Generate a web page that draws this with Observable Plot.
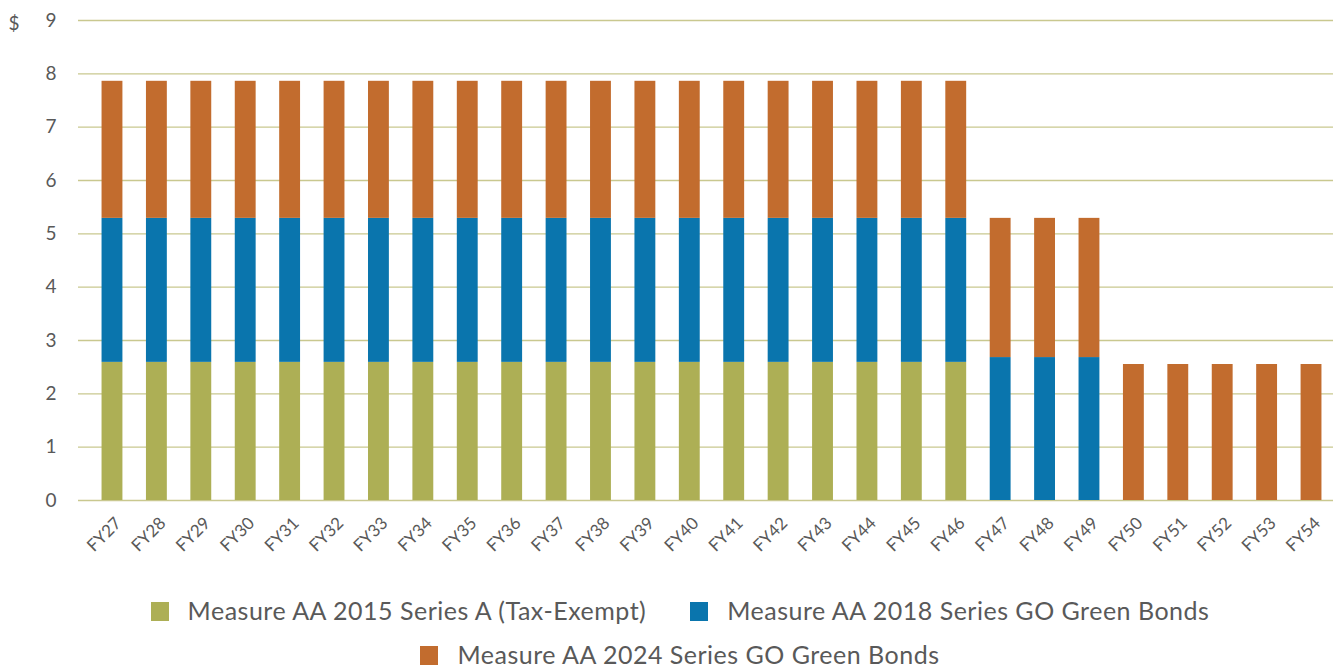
<!DOCTYPE html>
<html>
<head>
<meta charset="utf-8">
<script src="https://cdn.jsdelivr.net/npm/d3@7"></script>
<script src="https://cdn.jsdelivr.net/npm/@observablehq/plot@0.6"></script>
<style>
  html, body { margin: 0; padding: 0; background: #fff; }
  body { width: 1333px; height: 672px; overflow: hidden; font-family: Lato, "DejaVu Sans", sans-serif; }
  #legend { width: 1240px; margin-left: 60px; margin-top: 16px; text-align: center; font-size: 25px; letter-spacing: 0.5px; color: #595959; line-height: 44px; }
  .item { display: inline-block; margin: 0 22px; white-space: nowrap; }
  .sw { display: inline-block; width: 18px; height: 19px; margin-right: 19px; vertical-align: -1px; }
</style>
</head>
<body>
<div id="chart"></div>
<div id="legend"></div>
<script>
const years = ["FY27","FY28","FY29","FY30","FY31","FY32","FY33","FY34","FY35","FY36","FY37","FY38","FY39","FY40","FY41","FY42","FY43","FY44","FY45","FY46","FY47","FY48","FY49","FY50","FY51","FY52","FY53","FY54"];
const seriesNames = ["Measure AA 2015 Series A (Tax-Exempt)", "Measure AA 2018 Series GO Green Bonds", "Measure AA 2024 Series GO Green Bonds"];
const colors = ["#adaf55", "#0a75ad", "#c26c2e"];
const s2015 = [2.59,2.59,2.59,2.59,2.59,2.59,2.59,2.59,2.59,2.59,2.59,2.59,2.59,2.59,2.59,2.59,2.59,2.59,2.59,2.59,0,0,0,0,0,0,0,0];
const s2018 = [2.70,2.70,2.70,2.70,2.70,2.70,2.70,2.70,2.70,2.70,2.70,2.70,2.70,2.70,2.70,2.70,2.70,2.70,2.70,2.70,2.68,2.68,2.68,0,0,0,0,0];
const s2024 = [2.57,2.57,2.57,2.57,2.57,2.57,2.57,2.57,2.57,2.57,2.57,2.57,2.57,2.57,2.57,2.57,2.57,2.57,2.57,2.57,2.61,2.61,2.61,2.55,2.55,2.55,2.55,2.55];
const yTicks = [0,1,2,3,4,5,6,7,8,9];

const data = [];
[s2015, s2018, s2024].forEach((arr, si) => {
  arr.forEach((v, i) => { if (v > 0) data.push({year: years[i], series: seriesNames[si], value: v}); });
});

const chart = Plot.plot({
  width: 1333,
  height: 572,
  marginLeft: 78,
  marginRight: 0,
  marginTop: 20,
  marginBottom: 72,
  style: {fontFamily: 'Lato, "DejaVu Sans", sans-serif', color: "#595959", background: "#fff"},
  x: {domain: years, paddingInner: 0.53, paddingOuter: 0.26, insetLeft: 12, round: false, label: null},
  y: {domain: [0, 9], ticks: yTicks, label: null},
  color: {domain: seriesNames, range: colors},
  marks: [
    Plot.ruleY(yTicks, {stroke: "#c9c88f", strokeWidth: 1.3}),
    Plot.barY(data, {x: "year", y: "value", fill: "series", order: seriesNames}),
    Plot.axisY({ticks: yTicks, tickSize: 0, tickPadding: 22, fontSize: 19, label: null, tickFormat: d3.format("d")}),
    Plot.axisX({tickSize: 0, tickRotate: -45, tickPadding: 20, dx: 6, fontSize: 17, label: null}),
    Plot.text(["$"], {frameAnchor: "top-left", dx: -70, dy: -4, text: d => d, fontSize: 19, fill: "#595959", textAnchor: "start"})
  ]
});
document.getElementById("chart").appendChild(chart);

const legend = document.getElementById("legend");
seriesNames.forEach((name, i) => {
  const item = document.createElement("span");
  item.className = "item";
  const sw = document.createElement("span");
  sw.className = "sw";
  sw.style.background = colors[i];
  item.appendChild(sw);
  item.appendChild(document.createTextNode(name));
  legend.appendChild(item);
});
</script>
</body>
</html>
